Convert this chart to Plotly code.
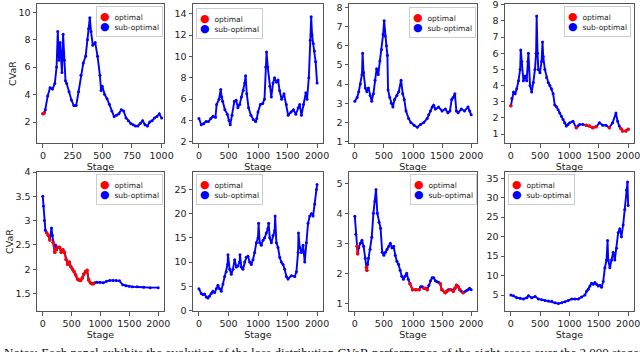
import plotly.graph_objects as go

# ---------------- data ----------------
p1_stage = [0, 10, 20, 40, 60, 80, 100, 115, 125, 135,
            145, 160, 170, 180, 190, 200, 220, 240, 260, 280,
            300, 320, 340, 360, 375, 385, 395, 405, 420, 440,
            460, 480, 490, 500, 520, 540, 560, 580, 600, 620,
            640, 660, 680, 700, 720, 740, 760, 780, 800, 820,
            840, 860, 880, 900, 920, 940, 960, 980, 1000]
p1_cvar = [2.6, 2.65, 2.9, 3.9, 4.5, 4.4, 4.8, 6.0, 8.6, 6.5,
           7.8, 5.6, 8.4, 6.5, 5.0, 4.8, 4.2, 3.6, 3.2, 3.2,
           4.2, 5.4, 6.3, 6.8, 8.0, 8.8, 9.6, 8.6, 7.6, 7.8,
           6.8, 5.4, 4.3, 4.6, 4.0, 3.7, 3.3, 2.8, 2.4, 2.5,
           2.6, 2.9, 2.8, 2.3, 2.1, 1.9, 1.8, 1.7, 1.7, 1.9,
           2.1, 1.8, 1.7, 2.0, 2.1, 2.3, 2.4, 2.6, 2.3]
p1_opt = [1, 1] + [0] * 57

p2_stage = [0, 40, 80, 120, 160, 200, 240, 280, 300, 340,
            370, 385, 400, 440, 480, 510, 530, 560, 600, 630,
            660, 690, 720, 750, 775, 790, 810, 840, 880, 920,
            960, 980, 1000, 1040, 1080, 1110, 1130, 1145, 1165, 1200,
            1225, 1255, 1280, 1310, 1340, 1365, 1400, 1440, 1480, 1510,
            1560, 1600, 1640, 1680, 1705, 1735, 1770, 1810, 1830, 1860,
            1885, 1900, 1915, 1935, 1955, 1975, 2000]
p2_cvar = [4.2, 3.6, 3.7, 3.9, 3.9, 4.2, 4.4, 4.3, 5.5, 6.0,
           6.9, 6.2, 5.8, 5.0, 4.6, 4.0, 3.6, 4.5, 5.8, 5.9,
           5.2, 5.5, 6.2, 6.8, 7.5, 8.2, 6.5, 5.2, 4.5, 4.1,
           3.9, 4.2, 4.8, 5.5, 5.6, 6.0, 9.0, 10.4, 9.0, 7.2,
           6.2, 7.5, 8.0, 7.6, 7.8, 6.8, 6.0, 6.5, 5.5, 4.5,
           4.8, 5.0, 4.6, 5.2, 5.5, 4.5, 5.5, 6.6, 6.0, 8.0,
           11.5, 13.7, 12.0, 11.2, 10.5, 9.5, 7.5]
p2_opt = [0] * 67

p3_stage = [0, 40, 67, 95, 123, 134, 150, 180, 207, 235,
            263, 290, 320, 347, 375, 403, 431, 460, 487, 504,
            521, 543, 560, 571, 600, 627, 655, 683, 723, 756,
            795, 823, 850, 880, 925, 963, 1020, 1075, 1130, 1185,
            1243, 1270, 1300, 1330, 1355, 1385, 1440, 1500, 1555, 1600,
            1635, 1665, 1690, 1720, 1745, 1775, 1830, 1885, 1945, 1975,
            2000]
p3_cvar = [3.1, 3.3, 3.6, 4.0, 4.5, 5.6, 4.6, 3.8, 3.6, 3.8,
           3.4, 3.1, 3.5, 4.2, 4.8, 4.5, 5.2, 5.8, 6.6, 7.3,
           6.5, 6.0, 5.5, 3.7, 3.3, 3.0, 2.8, 3.2, 3.4, 3.6,
           4.2, 3.5, 3.2, 2.6, 2.2, 2.0, 1.85, 1.75, 1.9, 2.0,
           2.2, 2.4, 2.6, 2.8, 2.9, 2.7, 2.8, 2.6, 2.7, 2.5,
           2.6, 3.2, 3.3, 3.5, 2.6, 2.5, 2.7, 2.6, 2.8, 2.6,
           2.4]
p3_opt = [0] * 61

p4_stage = [0, 17, 45, 73, 100, 130, 158, 169, 186, 214,
            242, 270, 290, 299, 327, 355, 383, 411, 430, 440,
            455, 468, 496, 524, 540, 552, 580, 608, 637, 665,
            693, 721, 749, 777, 806, 834, 862, 890, 918, 946,
            975, 1003, 1059, 1115, 1144, 1172, 1228, 1285, 1341, 1397,
            1454, 1510, 1566, 1622, 1679, 1735, 1792, 1820, 1848, 1876,
            1904, 1961, 2000]
p4_cvar = [2.75, 3.2, 3.6, 3.5, 3.8, 4.3, 5.0, 6.2, 5.5, 4.3,
           4.6, 4.3, 5.5, 6.0, 4.0, 3.6, 4.2, 5.0, 6.0, 8.3,
           6.0, 5.0, 4.8, 5.5, 6.7, 5.8, 5.0, 4.5, 4.2, 4.0,
           3.8, 3.5, 2.8, 2.7, 2.5, 2.3, 2.1, 1.9, 1.7, 1.5,
           1.6, 1.7, 1.8, 1.4, 1.5, 1.6, 1.6, 1.55, 1.5, 1.4,
           1.45, 1.7, 1.55, 1.55, 1.4, 1.7, 2.3, 1.8, 1.5, 1.35,
           1.2, 1.2, 1.3]
p4_opt = ([1, 0, 0, 0, 0, 0, 0, 0, 0, 0]
          + [0] * 30
          + [0, 0, 0, 1, 0, 0, 0, 1, 1, 1]
          + [1, 0, 0, 0, 1, 0, 0, 0, 0, 1]
          + [1, 1, 1])

p5_stage = [0, 11, 28, 45, 67, 95, 123, 151, 165, 179,
            207, 220, 235, 263, 291, 319, 347, 375, 403, 431,
            459, 487, 515, 543, 571, 599, 627, 655, 683, 711,
            739, 767, 795, 823, 851, 879, 896, 935, 991, 1048,
            1104, 1160, 1216, 1272, 1328, 1384, 1440, 1496, 1552, 1636,
            1748, 1860, 2000]
p5_cvar = [3.5, 3.3, 3.0, 2.8, 2.75, 2.7, 2.6, 2.85, 2.7, 2.55,
           2.35, 2.5, 2.4, 2.45, 2.45, 2.35, 2.4, 2.35, 2.2, 2.1,
           2.15, 2.05, 2.0, 1.95, 1.88, 1.8, 1.78, 1.77, 1.82, 1.9,
           1.95, 1.98, 1.78, 1.72, 1.7, 1.7, 1.72, 1.73, 1.73, 1.72,
           1.75, 1.77, 1.77, 1.77, 1.76, 1.68, 1.66, 1.65, 1.64, 1.64,
           1.63, 1.62, 1.62]
p5_opt = ([0, 0, 0, 0, 1, 1, 1, 0, 0, 1]
          + [1, 0, 1, 1, 1, 1, 1, 1, 1, 1]
          + [1] * 10
          + [1, 1, 1, 1, 1, 1, 0, 0, 0, 0]
          + [0] * 13)

p6_stage = [0, 40, 68, 96, 124, 153, 181, 209, 237, 266,
            294, 322, 350, 379, 407, 435, 463, 485, 492, 520,
            548, 576, 605, 633, 661, 689, 695, 718, 746, 774,
            802, 830, 859, 887, 915, 943, 972, 1000, 1010, 1028,
            1056, 1085, 1113, 1141, 1169, 1180, 1198, 1226, 1254, 1282,
            1290, 1311, 1339, 1367, 1395, 1424, 1452, 1480, 1508, 1565,
            1621, 1650, 1678, 1685, 1706, 1734, 1763, 1791, 1819, 1847,
            1876, 1904, 1932, 1960, 1989, 2000]
p6_cvar = [4.5, 3.5, 3.3, 3.4, 2.8, 2.6, 3.0, 3.5, 4.0, 3.7,
           4.5, 5.2, 4.5, 4.0, 5.5, 7.0, 8.0, 9.5, 11.5, 8.5,
           7.5, 8.5, 10.5, 9.0, 9.2, 10.0, 11.5, 9.0, 8.5, 10.0,
           11.0, 11.2, 10.0, 9.5, 10.5, 12.0, 14.0, 15.0, 18.0, 14.0,
           13.5, 14.5, 15.0, 16.0, 17.0, 18.0, 15.0, 14.0, 15.5, 16.5,
           19.5, 14.0, 13.0, 11.0, 10.0, 9.5, 8.5, 7.0, 6.5, 7.2,
           7.0, 8.0, 12.0, 16.0, 13.0, 12.0, 13.5, 10.0, 14.0, 18.0,
           19.5, 20.0, 19.5, 22.0, 25.0, 26.0]
p6_opt = [0] * 76

p7_stage = [0, 17, 39, 50, 67, 95, 123, 151, 179, 200,
            207, 220, 235, 263, 291, 319, 347, 364, 387, 415,
            443, 471, 499, 527, 555, 583, 611, 639, 667, 695,
            723, 751, 779, 807, 835, 863, 891, 919, 947, 992,
            1048, 1104, 1132, 1160, 1188, 1216, 1244, 1272, 1300, 1328,
            1356, 1384, 1412, 1440, 1468, 1496, 1552, 1580, 1608, 1636,
            1664, 1692, 1720, 1748, 1776, 1804, 1832, 1860, 1888, 1916,
            1944, 1972, 2000]
p7_cvar = [3.9, 3.3, 2.9, 2.65, 2.85, 3.0, 3.1, 2.9, 2.5, 2.2,
           2.1, 2.3, 2.5, 2.8, 3.2, 4.0, 4.4, 4.8, 4.0, 3.7,
           3.5, 2.7, 2.6, 2.7, 2.8, 2.9, 3.0, 2.85, 2.9, 2.6,
           2.4, 2.3, 2.1, 1.9, 1.8, 1.9, 2.0, 1.8, 1.65, 1.45,
           1.45, 1.45, 1.55, 1.55, 1.5, 1.5, 1.45, 1.6, 1.75, 1.85,
           1.85, 1.75, 1.72, 1.7, 1.65, 1.45, 1.35, 1.4, 1.45, 1.45,
           1.45, 1.4, 1.5, 1.6, 1.55, 1.45, 1.4, 1.35, 1.38, 1.42,
           1.45, 1.5, 1.45]
p7_opt = ([0, 0, 1, 1, 0, 0, 0, 0, 0, 1]
          + [1, 0, 0, 0, 0, 0, 0, 0, 0, 0]
          + [0] * 10
          + [0, 0, 0, 0, 0, 0, 0, 0, 1, 1]
          + [1, 1, 0, 0, 1, 1, 1, 0, 0, 0]
          + [0, 0, 0, 0, 1, 1, 1, 1, 0, 1]
          + [0, 1, 1, 1, 1, 1, 0, 1, 0, 0]
          + [0, 0, 0])

p8_stage = [0, 45, 102, 159, 215, 272, 300, 357, 414, 470,
            527, 584, 640, 697, 754, 810, 867, 924, 980, 1037,
            1093, 1150, 1207, 1263, 1292, 1320, 1348, 1377, 1405, 1433,
            1462, 1490, 1518, 1547, 1575, 1603, 1632, 1649, 1660, 1688,
            1717, 1745, 1773, 1802, 1830, 1858, 1886, 1915, 1943, 1971,
            1989, 2000]
p8_cvar = [5.0, 4.8, 4.3, 4.2, 4.0, 4.3, 4.8, 4.3, 4.6, 4.0,
           3.8, 3.6, 3.5, 3.4, 3.0, 2.8, 3.0, 3.3, 3.6, 4.0,
           4.0, 4.0, 4.5, 5.0, 6.0, 6.5, 7.3, 8.0, 7.8, 8.2,
           7.8, 7.3, 7.5, 7.0, 8.5, 12.0, 14.0, 19.0, 14.0, 12.0,
           14.0, 16.0, 14.0, 17.0, 21.0, 22.0, 20.0, 23.0, 27.0, 32.0,
           34.0, 28.0]
p8_opt = [0] * 52

legend_labels = ["optimal", "sub-optimal"]
x_ticks_1000 = [0, 250, 500, 750, 1000]
x_ticks_2000 = [0, 500, 1000, 1500, 2000]

# ---------------- layout helpers (pixel geometry) ----------------
W, H = 640, 352
def px(x):
    return x / W
def py(y):
    return 1 - y / H

col_px = [(37, 164), (193, 323), (349, 477), (505, 634)]
row_px = [(4, 143), (172, 311)]

panels = [
    dict(s=p1_stage, v=p1_cvar, o=p1_opt, xr=[-50, 1020], yr=[0.47, 10.6], xt=x_ticks_1000, dy=2, leg="tr", leg_px=(163, 6)),
    dict(s=p2_stage, v=p2_cvar, o=p2_opt, xr=[-100, 2100], yr=[1.9, 14.9], xt=x_ticks_2000, dy=2, leg="tl", leg_px=(196, 8)),
    dict(s=p3_stage, v=p3_cvar, o=p3_opt, xr=[-100, 2100], yr=[0.93, 8.17], xt=x_ticks_2000, dy=1, leg="tr", leg_px=(476, 7)),
    dict(s=p4_stage, v=p4_cvar, o=p4_opt, xr=[-100, 2100], yr=[0.45, 9.05], xt=x_ticks_2000, dy=1, leg="tr", leg_px=(631, 6)),
    dict(s=p5_stage, v=p5_cvar, o=p5_opt, xr=[-100, 2100], yr=[1.14, 4.0], xt=x_ticks_2000, dy=0.5, leg="tr", leg_px=(163, 174)),
    dict(s=p6_stage, v=p6_cvar, o=p6_opt, xr=[-100, 2100], yr=[-0.1, 28.6], xt=x_ticks_2000, dy=5, leg="tl", leg_px=(196, 174)),
    dict(s=p7_stage, v=p7_cvar, o=p7_opt, xr=[-100, 2100], yr=[0.74, 5.38], xt=x_ticks_2000, dy=1, leg="tr", leg_px=(477, 174)),
    dict(s=p8_stage, v=p8_cvar, o=p8_opt, xr=[-100, 2100], yr=[0.9, 36.6], xt=x_ticks_2000, dy=5, leg="tl", leg_px=(508, 174)),
]

BLUE = "#0000ff"
RED = "#ff0000"
AXC = "#555555"
TXT = "#222222"
FONT = "DejaVu Sans"

fig = go.Figure()
layout = dict(
    width=W, height=H,
    margin=dict(l=0, r=0, t=0, b=0),
    paper_bgcolor="white", plot_bgcolor="white",
    font=dict(family=FONT, size=9.5, color=TXT),
    showlegend=False,
)
annotations = []

legend_text = "<br>".join(
    f"<span style='color:{col};font-size:11px'>●</span>  {lab}"
    for lab, col in zip(legend_labels, [RED, BLUE]))

for i, p in enumerate(panels, start=1):
    sfx = "" if i == 1 else str(i)
    xa, ya = "x" + sfx, "y" + sfx
    r, c = (i - 1) // 4, (i - 1) % 4
    x0, x1 = col_px[c]
    y0, y1 = row_px[r]

    fig.add_trace(go.Scatter(
        x=p["s"], y=p["v"], mode="lines+markers", name="sub-optimal",
        line=dict(color=BLUE, width=1.9), marker=dict(color=BLUE, size=3),
        xaxis=xa, yaxis=ya, hoverinfo="skip"))
    red_y = [v if o else None for v, o in zip(p["v"], p["o"])]
    if any(p["o"]):
        fig.add_trace(go.Scatter(
            x=p["s"], y=red_y, mode="lines+markers", connectgaps=False, name="optimal",
            line=dict(color=RED, width=1.9), marker=dict(color=RED, size=3.5),
            xaxis=xa, yaxis=ya, hoverinfo="skip"))

    layout["xaxis" + sfx] = dict(
        domain=[px(x0), px(x1)], range=p["xr"], anchor=ya,
        tickvals=p["xt"], showline=True, mirror=True, linecolor=AXC, linewidth=1,
        ticks="outside", ticklen=3.5, tickcolor=AXC, showgrid=False, zeroline=False,
        tickfont=dict(size=9.5, color=TXT), automargin=False, ticklabeloverflow="allow",
        title=dict(text="Stage", font=dict(size=9.5, color=TXT), standoff=0))
    layout["yaxis" + sfx] = dict(
        domain=[py(y1), py(y0)], range=p["yr"], anchor=xa, dtick=p["dy"],
        showline=True, mirror=True, linecolor=AXC, linewidth=1,
        ticks="outside", ticklen=3.5, tickcolor=AXC, showgrid=False, zeroline=False,
        tickfont=dict(size=9.5, color=TXT), automargin=False, ticklabeloverflow="allow",
        title=dict(text="CVaR" if c == 0 else "", font=dict(size=9.5, color=TXT), standoff=0))

    lx, ly = p["leg_px"]
    annotations.append(dict(
        text=legend_text, xref="paper", yref="paper",
        x=px(lx), y=py(ly), xanchor="right" if p["leg"] == "tr" else "left", yanchor="top",
        align="left", showarrow=False,
        font=dict(size=7.5, color=TXT, family=FONT),
        bgcolor="rgba(255,255,255,0.85)", bordercolor="#cccccc", borderwidth=1, borderpad=3))

annotations.append(dict(
    text="Notes: Each panel exhibits the evolution of the loss distribution CVaR performance of the eight cases over the 2,000 stages.",
    xref="paper", yref="paper", x=0.003, y=py(343), xanchor="left", yanchor="top",
    showarrow=False, font=dict(family="Liberation Serif", size=13, color="#111111")))
layout["annotations"] = annotations

fig.update_layout(**layout)
fig.write_html(
    "out.html", config={"displayModeBar": False},
    post_script=("document.documentElement.style.margin='0';"
                 "document.documentElement.style.overflow='hidden';"
                 "document.body.style.margin='0';"
                 "document.body.style.padding='0';"
                 "document.body.style.overflow='hidden';"))
